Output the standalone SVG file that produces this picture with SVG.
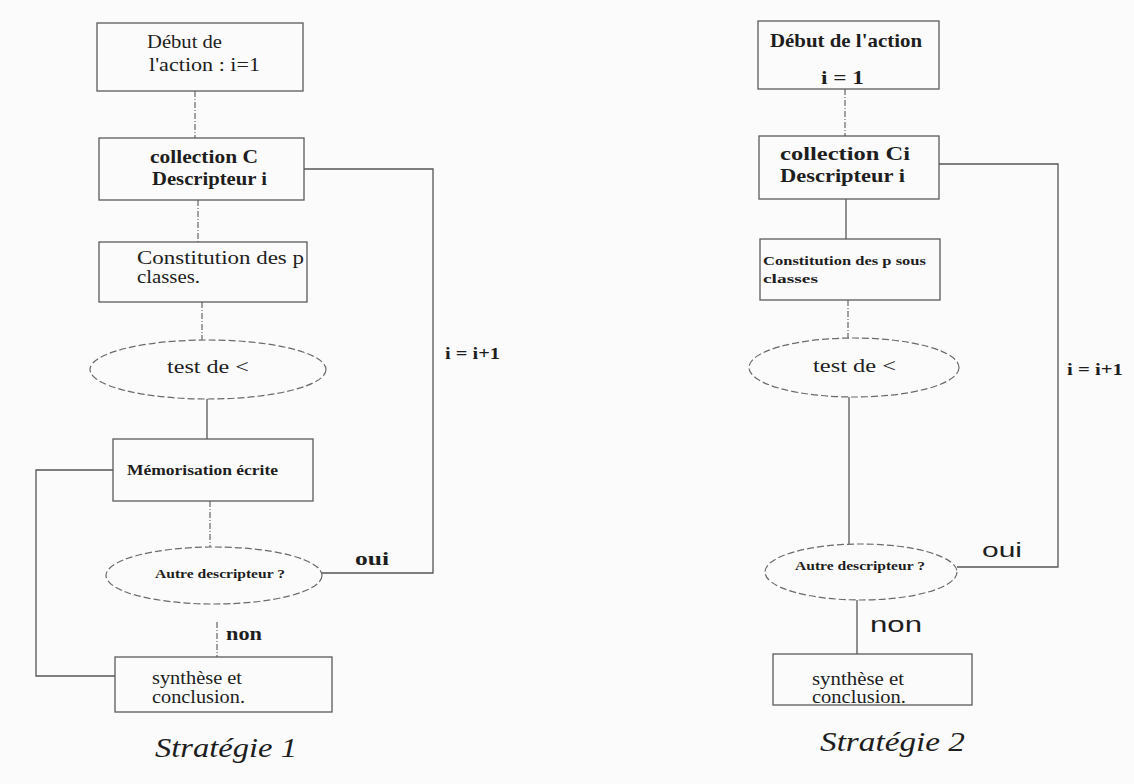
<svg xmlns="http://www.w3.org/2000/svg" width="1134" height="784" viewBox="0 0 1134 784">
<style>
.bg{fill:#fbfbfb}
.box{fill:none;stroke:#5a5a5a;stroke-width:1.3}
.ell{fill:none;stroke:#6a6a6a;stroke-width:1.2;stroke-dasharray:7 3}
.ln{fill:none;stroke:#555;stroke-width:1.3}
.dl{fill:none;stroke:#666;stroke-width:1.2;stroke-dasharray:6 2 1 2}
.t{font-family:"Liberation Serif","Times New Roman",serif;fill:#1e1e1e}
.b{font-weight:bold}
.s{font-family:"Liberation Sans",Arial,sans-serif;fill:#1e1e1e}
.it{font-family:"Liberation Serif","Times New Roman",serif;font-style:italic;fill:#1e1e1e}
</style>
<rect class="bg" x="0" y="0" width="1134" height="784"/>

<g id="connectors">
  <!-- strategy 1 -->
  <line class="dl" x1="195" y1="91" x2="195" y2="138"/>
  <line class="dl" x1="198" y1="200" x2="198" y2="242"/>
  <line class="dl" x1="202" y1="302" x2="202" y2="340"/>
  <line class="ln" x1="207" y1="399" x2="207" y2="439"/>
  <line class="dl" x1="210" y1="501" x2="210" y2="547"/>
  <line class="dl" x1="217" y1="622" x2="217" y2="657"/>
  <polyline class="ln" points="304,169 433,169 433,573 322,573"/>
  <polyline class="ln" points="113,470 36,470 36,676 115,676"/>
  <!-- strategy 2 -->
  <line class="dl" x1="845" y1="89" x2="845" y2="136"/>
  <line class="ln" x1="846" y1="199" x2="846" y2="239"/>
  <line class="dl" x1="848" y1="300" x2="848" y2="338"/>
  <line class="ln" x1="849" y1="397" x2="849" y2="544"/>
  <line class="ln" x1="857" y1="600" x2="857" y2="654"/>
  <polyline class="ln" points="939,164 1058,164 1058,567 957,567"/>
</g>

<!-- Strategy 1 nodes -->
<g id="s1-debut">
  <rect class="box" x="97" y="23" width="206" height="68"/>
  <text class="t" x="147" y="48" font-size="19" textLength="75" lengthAdjust="spacingAndGlyphs">Début de</text>
  <text class="t" x="149" y="71" font-size="19" textLength="111" lengthAdjust="spacingAndGlyphs">l'action : i=1</text>
</g>
<g id="s1-collection">
  <rect class="box" x="99" y="138" width="205" height="62"/>
  <text class="t b" x="150" y="163" font-size="18" textLength="108" lengthAdjust="spacingAndGlyphs">collection C</text>
  <text class="t b" x="152" y="185" font-size="18" textLength="115" lengthAdjust="spacingAndGlyphs">Descripteur i</text>
</g>
<g id="s1-constitution">
  <rect class="box" x="99" y="242" width="208" height="60"/>
  <text class="t" x="137" y="264" font-size="19" textLength="167" lengthAdjust="spacingAndGlyphs">Constitution des p</text>
  <text class="t" x="137" y="283" font-size="19" textLength="63" lengthAdjust="spacingAndGlyphs">classes.</text>
</g>
<g id="s1-test">
  <ellipse class="ell" cx="208" cy="369.5" rx="118" ry="29.5"/>
  <text class="t" x="167" y="373" font-size="19" textLength="82" lengthAdjust="spacingAndGlyphs">test de  &lt;</text>
</g>
<g id="s1-memorisation">
  <rect class="box" x="113" y="439" width="200" height="62"/>
  <text class="t b" x="127" y="475" font-size="14" textLength="151" lengthAdjust="spacingAndGlyphs">Mémorisation écrite</text>
</g>
<g id="s1-autre">
  <ellipse class="ell" cx="214" cy="575.5" rx="108" ry="28.5"/>
  <text class="t b" x="155" y="578" font-size="13" textLength="130" lengthAdjust="spacingAndGlyphs">Autre descripteur ?</text>
</g>
<g id="s1-synthese">
  <rect class="box" x="115" y="657" width="217" height="55"/>
  <text class="t" x="152" y="684" font-size="18" textLength="90" lengthAdjust="spacingAndGlyphs">synthèse et</text>
  <text class="t" x="152" y="703" font-size="18" textLength="93" lengthAdjust="spacingAndGlyphs">conclusion.</text>
</g>
<g id="s1-labels">
  <text class="t b" x="445" y="359" font-size="16" textLength="55" lengthAdjust="spacingAndGlyphs">i = i+1</text>
  <text class="t b" x="355" y="565" font-size="19" textLength="34" lengthAdjust="spacingAndGlyphs">oui</text>
  <text class="t b" x="226" y="640" font-size="18" textLength="36" lengthAdjust="spacingAndGlyphs">non</text>
  <text class="it" x="155" y="757" font-size="28" textLength="142" lengthAdjust="spacingAndGlyphs">Stratégie 1</text>
</g>

<!-- Strategy 2 nodes -->
<g id="s2-debut">
  <rect class="box" x="758" y="21" width="181" height="68"/>
  <text class="t b" x="770" y="47" font-size="19" textLength="152" lengthAdjust="spacingAndGlyphs">Début de l'action</text>
  <text class="t b" x="821" y="84" font-size="19" textLength="43" lengthAdjust="spacingAndGlyphs">i = 1</text>
</g>
<g id="s2-collection">
  <rect class="box" x="759" y="136" width="180" height="63"/>
  <text class="t b" x="780" y="160" font-size="19" textLength="130" lengthAdjust="spacingAndGlyphs">collection Ci</text>
  <text class="t b" x="780" y="182" font-size="19" textLength="125" lengthAdjust="spacingAndGlyphs">Descripteur i</text>
</g>
<g id="s2-constitution">
  <rect class="box" x="760" y="239" width="180" height="61"/>
  <text class="t b" x="763" y="265" font-size="13" textLength="163" lengthAdjust="spacingAndGlyphs">Constitution des p sous</text>
  <text class="t b" x="763" y="283" font-size="13" textLength="55" lengthAdjust="spacingAndGlyphs">classes</text>
</g>
<g id="s2-test">
  <ellipse class="ell" cx="854" cy="367.5" rx="105" ry="29.5"/>
  <text class="t" x="813" y="372" font-size="19" textLength="83" lengthAdjust="spacingAndGlyphs">test de  &lt;</text>
</g>
<g id="s2-autre">
  <ellipse class="ell" cx="861" cy="572" rx="96" ry="28"/>
  <text class="t b" x="795" y="570" font-size="13" textLength="130" lengthAdjust="spacingAndGlyphs">Autre descripteur ?</text>
</g>
<g id="s2-synthese">
  <rect class="box" x="773" y="654" width="199" height="51"/>
  <text class="t" x="812" y="685" font-size="18" textLength="92" lengthAdjust="spacingAndGlyphs">synthèse et</text>
  <text class="t" x="812" y="703" font-size="18" textLength="94" lengthAdjust="spacingAndGlyphs">conclusion.</text>
</g>
<g id="s2-labels">
  <text class="t b" x="1067" y="375" font-size="17" textLength="56" lengthAdjust="spacingAndGlyphs">i = i+1</text>
  <text class="s" x="982" y="557" font-size="21" textLength="40" lengthAdjust="spacingAndGlyphs">oui</text>
  <text class="s" x="870" y="632" font-size="22" textLength="52" lengthAdjust="spacingAndGlyphs">non</text>
  <text class="it" x="820" y="751" font-size="28" textLength="145" lengthAdjust="spacingAndGlyphs">Stratégie 2</text>
</g>
</svg>
